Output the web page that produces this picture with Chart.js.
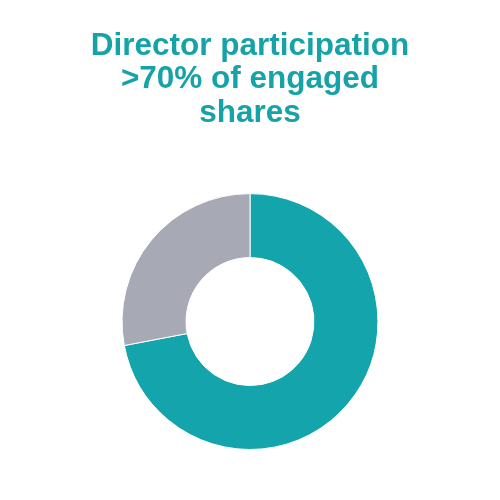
<!DOCTYPE html>
<html>
<head>
<meta charset="utf-8">
<script src="https://cdn.jsdelivr.net/npm/chart.js@4.4.0/dist/chart.umd.min.js"></script>
<style>
    html, body { margin: 0; padding: 0; background: #fff; }
    #wrap { width: 500px; height: 500px; }
</style>
</head>
<body>
<div id="wrap"><canvas id="donut" width="500" height="500"></canvas></div>
<script>
const titleLines = ['Director participation', '>70% of engaged', 'shares'];
const labels = ['Director participation', 'Other'];
const shares = [72, 28];
const colors = ['#13A5AB', '#A7A9B4'];

document.addEventListener('DOMContentLoaded', function () {
    const ctx = document.getElementById('donut').getContext('2d');
    new Chart(ctx, {
        type: 'doughnut',
        data: {
            labels: labels,
            datasets: [{
                data: shares,
                backgroundColor: colors,
                borderColor: '#ffffff',
                borderWidth: 1
            }]
        },
        options: {
            responsive: false,
            animation: false,
            cutout: '50%',
            layout: { padding: { top: 0, bottom: 50, left: 0, right: 0 } },
            plugins: {
                legend: { display: false },
                tooltip: { enabled: false },
                title: {
                    display: true,
                    text: titleLines,
                    color: '#16A3A8',
                    font: { family: 'Liberation Sans, Arial, sans-serif', size: 31.5, weight: 'bold', lineHeight: 1.07 },
                    padding: { top: 29, bottom: 63 }
                }
            }
        }
    });
});
</script>
</body>
</html>
